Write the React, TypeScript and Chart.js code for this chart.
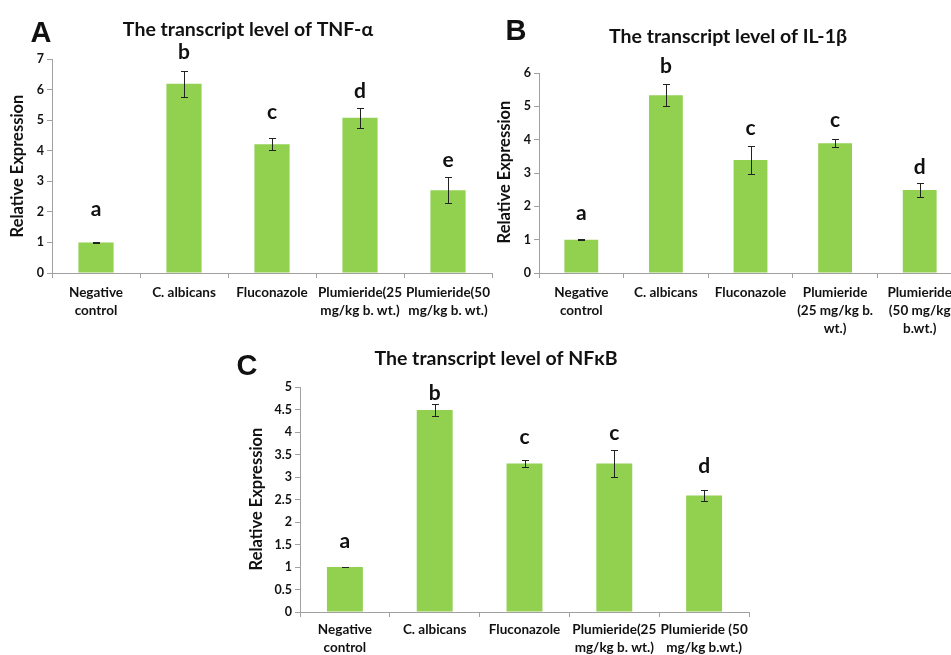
import React, { useEffect, useRef } from "react";
import { Chart, registerables } from "chart.js";
Chart.register(...registerables);

// ---------- Data ----------
const categoriesA: (string | string[])[] = [
  ["Negative", "control"],
  "C. albicans",
  "Fluconazole",
  ["Plumieride(25", "mg/kg b. wt.)"],
  ["Plumieride(50", "mg/kg b. wt.)"],
];
const valuesA = [1.0, 6.19, 4.21, 5.08, 2.71];
const errorsA = [0.01, 0.42, 0.2, 0.33, 0.43];
const lettersA = ["a", "b", "c", "d", "e"];
const letterLevelsA = [2.07, 7.21, 5.25, 5.93, 3.7];
const yMaxA = 7;
const yStepA = 1;

const categoriesB: (string | string[])[] = [
  ["Negative", "control"],
  "C. albicans",
  "Fluconazole",
  ["Plumieride", "(25 mg/kg b.", "wt.)"],
  ["Plumieride", "(50 mg/kg", "b.wt.)"],
];
const valuesB = [1.0, 5.33, 3.39, 3.89, 2.49];
const errorsB = [0.01, 0.33, 0.43, 0.12, 0.22];
const lettersB = ["a", "b", "c", "c", "d"];
const letterLevelsB = [1.79, 6.21, 4.35, 4.59, 3.17];
const yMaxB = 6;
const yStepB = 1;

const categoriesC: (string | string[])[] = [
  ["Negative", "control"],
  "C. albicans",
  "Fluconazole",
  ["Plumieride(25", "mg/kg b. wt.)"],
  ["Plumieride (50", "mg/kg b.wt.)"],
];
const valuesC = [1.0, 4.49, 3.3, 3.3, 2.59];
const errorsC = [0.01, 0.13, 0.08, 0.3, 0.13];
const lettersC = ["a", "b", "c", "c", "d"];
const letterLevelsC = [1.57, 4.86, 3.89, 3.97, 3.23];
const yMaxC = 5;
const yStepC = 0.5;

const yAxisTitle = "Relative Expression";

// ---------- Styles ----------
const BAR = "#92D050";
const AXIS = "#a0a0a0";
const TEXT = "#111";
const FONT = "Lato, 'Open Sans', sans-serif";

type Panel = {
  letter: string;
  title: string;
  categories: (string | string[])[];
  values: number[];
  errors: number[];
  letters: string[];
  letterLevels: number[];
  yMax: number;
  yStep: number;
  left: number;
  top: number;
  width: number;
  height: number;
  yWidth: number;
  xHeight: number;
  padTop: number;
  padRight: number;
  labelPad: number;
  letterPos: [number, number];
  titlePos: [number, number];
  yTitlePos: [number, number];
};

const panels: Panel[] = [
  {
    letter: "A",
    title: "The transcript level of TNF-\u03b1",
    categories: categoriesA,
    values: valuesA,
    errors: errorsA,
    letters: lettersA,
    letterLevels: letterLevelsA,
    yMax: yMaxA,
    yStep: yStepA,
    left: 0,
    top: 0,
    width: 500,
    height: 330,
    yWidth: 52,
    xHeight: 57,
    padTop: 59,
    padRight: 8,
    labelPad: 5,
    letterPos: [41, 42],
    titlePos: [248, 36],
    yTitlePos: [18, 166],
  },
  {
    letter: "B",
    title: "The transcript level of IL-1\u03b2",
    categories: categoriesB,
    values: valuesB,
    errors: errorsB,
    letters: lettersB,
    letterLevels: letterLevelsB,
    yMax: yMaxB,
    yStep: yStepB,
    left: 480,
    top: 0,
    width: 500,
    height: 340,
    yWidth: 59,
    xHeight: 67,
    padTop: 73,
    padRight: 18,
    labelPad: 5,
    letterPos: [516, 40],
    titlePos: [728, 43],
    yTitlePos: [505, 172],
  },
  {
    letter: "C",
    title: "The transcript level of NF\u03baB",
    categories: categoriesC,
    values: valuesC,
    errors: errorsC,
    letters: lettersC,
    letterLevels: letterLevelsC,
    yMax: yMaxC,
    yStep: yStepC,
    left: 230,
    top: 320,
    width: 530,
    height: 335,
    yWidth: 70,
    xHeight: 43,
    padTop: 67,
    padRight: 11,
    labelPad: 3,
    letterPos: [247, 375],
    titlePos: [496, 365],
    yTitlePos: [257, 499],
  },
];

function PanelChart({ p }: { p: Panel }) {
  const ref = useRef<HTMLCanvasElement | null>(null);
  useEffect(() => {
    if (!ref.current) return;
    const decor = {
      id: "decor",
      afterDatasetsDraw(chart: any) {
        const ctx = chart.ctx;
        const meta = chart.getDatasetMeta(0);
        const ys = chart.scales.y;
        ctx.save();
        // error bars
        ctx.strokeStyle = "#222";
        ctx.lineWidth = 1;
        p.values.forEach((v, i) => {
          const x = Math.round(meta.data[i].x) + 0.5;
          const t = Math.round(ys.getPixelForValue(v + p.errors[i])) + 0.5;
          const b = Math.round(ys.getPixelForValue(v - p.errors[i])) + 0.5;
          ctx.beginPath();
          ctx.moveTo(x, t);
          ctx.lineTo(x, b);
          ctx.moveTo(x - 3.5, t);
          ctx.lineTo(x + 3.5, t);
          ctx.moveTo(x - 3.5, b);
          ctx.lineTo(x + 3.5, b);
          ctx.stroke();
        });
        // significance letters
        ctx.fillStyle = TEXT;
        ctx.font = `bold 21px ${FONT}`;
        ctx.textAlign = "center";
        ctx.textBaseline = "middle";
        p.letters.forEach((l, i) => {
          const x = meta.data[i].x;
          ctx.fillText(l, x, ys.getPixelForValue(p.letterLevels[i]));
        });
        // panel letter
        ctx.font = `bold 29px 'Liberation Sans', Arial, sans-serif`;
        ctx.textBaseline = "alphabetic";
        ctx.fillText(p.letter, p.letterPos[0] - p.left, p.letterPos[1] - p.top);
        // title
        ctx.font = `bold 19.5px ${FONT}`;
        ctx.fillText(p.title, p.titlePos[0] - p.left, p.titlePos[1] - p.top);
        // y title
        ctx.translate(p.yTitlePos[0] - p.left, p.yTitlePos[1] - p.top);
        ctx.rotate(-Math.PI / 2);
        ctx.font = `bold 16.5px ${FONT}`;
        ctx.textBaseline = "middle";
        ctx.fillText(yAxisTitle, 0, 0);
        ctx.restore();
      },
    };
    const chart = new Chart(ref.current, {
      type: "bar",
      data: {
        labels: p.categories as any,
        datasets: [
          {
            data: p.values,
            backgroundColor: BAR,
            borderWidth: 0,
            categoryPercentage: 1,
            barPercentage: 0.4,
          },
        ],
      },
      options: {
        animation: false,
        responsive: false,
        maintainAspectRatio: false,
        devicePixelRatio: 1,
        layout: { padding: { top: p.padTop, right: p.padRight, left: 0, bottom: 0 } },
        plugins: { legend: { display: false }, tooltip: { enabled: false }, title: { display: false } },
        scales: {
          x: {
            grid: { display: true, drawOnChartArea: false, drawTicks: true, tickLength: 5, color: AXIS, offset: true },
            border: { display: true, color: AXIS, width: 1 },
            ticks: {
              color: TEXT,
              font: { family: FONT, size: 13.5, weight: "bold", lineHeight: 1.36 },
              maxRotation: 0,
              minRotation: 0,
              autoSkip: false,
              padding: p.labelPad,
            },
            afterFit: (s: any) => {
              s.height = p.xHeight;
            },
          },
          y: {
            min: 0,
            max: p.yMax,
            grid: { display: true, drawOnChartArea: false, drawTicks: true, tickLength: 5, color: AXIS },
            border: { display: true, color: AXIS, width: 1 },
            ticks: {
              stepSize: p.yStep,
              color: TEXT,
              font: { family: FONT, size: 12.5, weight: "bold" },
              padding: 3,
              callback: (v: any) => String(Number(v)),
            },
            afterFit: (s: any) => {
              s.width = p.yWidth;
            },
          },
        },
      },
      plugins: [decor],
    });
    return () => chart.destroy();
  }, [p]);
  return (
    <canvas
      ref={ref}
      width={p.width}
      height={p.height}
      style={{ position: "absolute", left: p.left, top: p.top, width: p.width, height: p.height }}
    />
  );
}

export default function App() {
  return (
    <div
      style={{
        position: "fixed",
        left: 0,
        top: 0,
        width: 951,
        height: 655,
        overflow: "hidden",
        background: "#fff",
      }}
    >
      {panels.map((p) => (
        <PanelChart key={p.letter} p={p} />
      ))}
    </div>
  );
}
